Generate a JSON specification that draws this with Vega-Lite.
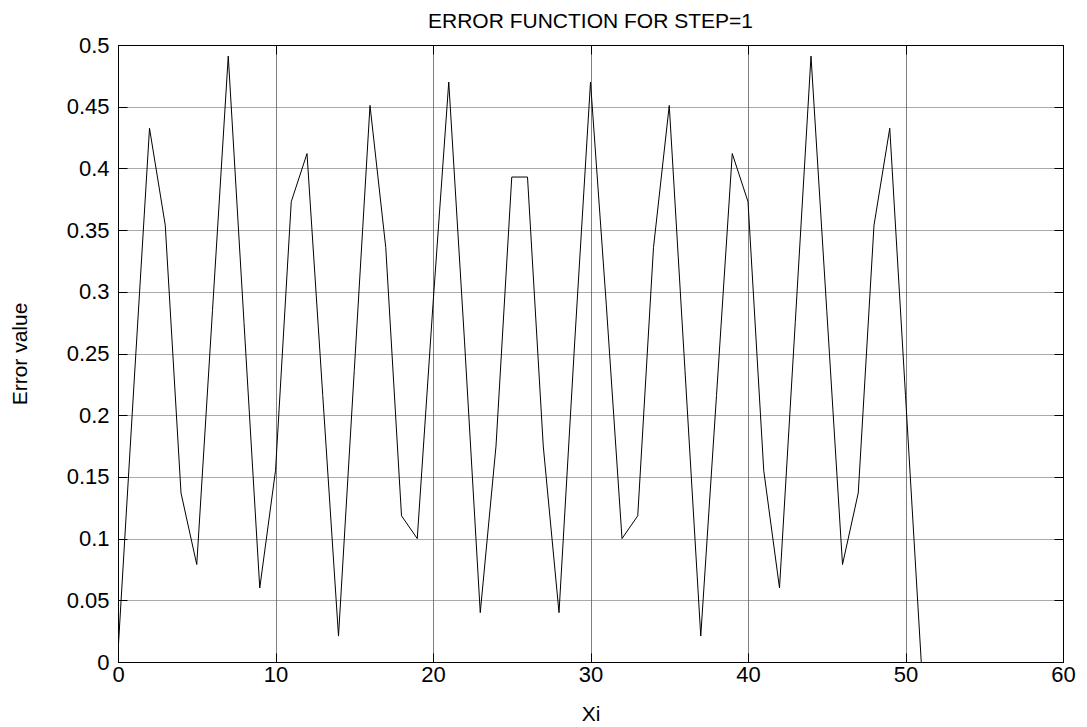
{
  "$schema": "https://vega.github.io/schema/vega-lite/v6.json",
  "width": 945,
  "height": 617,
  "autosize": {"type": "none"},
  "padding": {"left": 118, "top": 45, "right": 24, "bottom": 65},
  "background": "white",
  "config": {
    "font": "Liberation Sans",
    "view": {"stroke": "black", "strokeWidth": 1}
  },
  "title": {
    "text": "ERROR FUNCTION FOR STEP=1",
    "fontSize": 21,
    "fontWeight": "normal",
    "font": "Liberation Sans",
    "color": "black",
    "anchor": "middle",
    "offset": 2
  },
  "data": {
    "values": [
      {"x": 0, "y": 0.008}, {"x": 1, "y": 0.222}, {"x": 2, "y": 0.4325}, {"x": 3, "y": 0.354},
      {"x": 4, "y": 0.137}, {"x": 5, "y": 0.079}, {"x": 6, "y": 0.285}, {"x": 7, "y": 0.491},
      {"x": 8, "y": 0.275}, {"x": 9, "y": 0.06}, {"x": 10, "y": 0.155}, {"x": 11, "y": 0.373},
      {"x": 12, "y": 0.412}, {"x": 13, "y": 0.216}, {"x": 14, "y": 0.021}, {"x": 15, "y": 0.236},
      {"x": 16, "y": 0.451}, {"x": 17, "y": 0.336}, {"x": 18, "y": 0.1185}, {"x": 19, "y": 0.1},
      {"x": 20, "y": 0.29}, {"x": 21, "y": 0.47}, {"x": 22, "y": 0.26}, {"x": 23, "y": 0.04},
      {"x": 24, "y": 0.175}, {"x": 25, "y": 0.393}, {"x": 26, "y": 0.393}, {"x": 27, "y": 0.175},
      {"x": 28, "y": 0.04}, {"x": 29, "y": 0.26}, {"x": 30, "y": 0.47}, {"x": 31, "y": 0.29},
      {"x": 32, "y": 0.1}, {"x": 33, "y": 0.1185}, {"x": 34, "y": 0.336}, {"x": 35, "y": 0.451},
      {"x": 36, "y": 0.236}, {"x": 37, "y": 0.021}, {"x": 38, "y": 0.216}, {"x": 39, "y": 0.412},
      {"x": 40, "y": 0.373}, {"x": 41, "y": 0.155}, {"x": 42, "y": 0.06}, {"x": 43, "y": 0.275},
      {"x": 44, "y": 0.491}, {"x": 45, "y": 0.285}, {"x": 46, "y": 0.079}, {"x": 47, "y": 0.137},
      {"x": 48, "y": 0.354}, {"x": 49, "y": 0.4325}, {"x": 50, "y": 0.216}, {"x": 51, "y": 0}
    ]
  },
  "layer": [
    {
      "mark": {"type": "line", "color": "black", "strokeWidth": 1, "clip": true},
      "encoding": {
        "x": {
          "field": "x", "type": "quantitative",
          "scale": {"domain": [0, 60], "nice": false, "zero": false},
          "axis": {
            "orient": "bottom", "values": [0, 10, 20, 30, 40, 50, 60],
            "title": "Xi", "titleFontSize": 21, "titleFontWeight": "normal", "titleColor": "black",
            "titlePadding": 18,
            "labelFontSize": 22, "labelColor": "black", "labelPadding": 11, "labelFlush": false,
            "domainColor": "black", "tickColor": "black", "tickSize": -9,
            "grid": true, "gridColor": "#808080", "gridWidth": 1
          }
        },
        "y": {
          "field": "y", "type": "quantitative",
          "scale": {"domain": [0, 0.5], "nice": false},
          "axis": {
            "orient": "left",
            "values": [0, 0.05, 0.1, 0.15, 0.2, 0.25, 0.3, 0.35, 0.4, 0.45, 0.5],
            "format": "~f",
            "title": "Error value", "titleFontSize": 21, "titleFontWeight": "normal", "titleColor": "black",
            "titlePadding": 36,
            "labelFontSize": 22, "labelColor": "black", "labelPadding": 18, "labelFlush": false,
            "domainColor": "black", "tickColor": "black", "tickSize": -9,
            "grid": true, "gridColor": "#555555", "gridWidth": 1, "gridDash": [1, 1]
          }
        }
      }
    },
    {
      "mark": {"type": "line", "opacity": 0},
      "encoding": {
        "x": {
          "field": "x", "type": "quantitative",
          "scale": {"domain": [0, 60], "nice": false, "zero": false},
          "axis": {
            "orient": "top", "values": [0, 10, 20, 30, 40, 50, 60],
            "labels": false, "title": null, "domainColor": "black",
            "tickColor": "black", "tickSize": -9, "grid": false
          }
        },
        "y": {
          "field": "y", "type": "quantitative",
          "scale": {"domain": [0, 0.5], "nice": false},
          "axis": {
            "orient": "right",
            "values": [0, 0.05, 0.1, 0.15, 0.2, 0.25, 0.3, 0.35, 0.4, 0.45, 0.5],
            "labels": false, "title": null, "domainColor": "black",
            "tickColor": "black", "tickSize": -9, "grid": false
          }
        }
      }
    }
  ],
  "resolve": {"axis": {"x": "independent", "y": "independent"}}
}
